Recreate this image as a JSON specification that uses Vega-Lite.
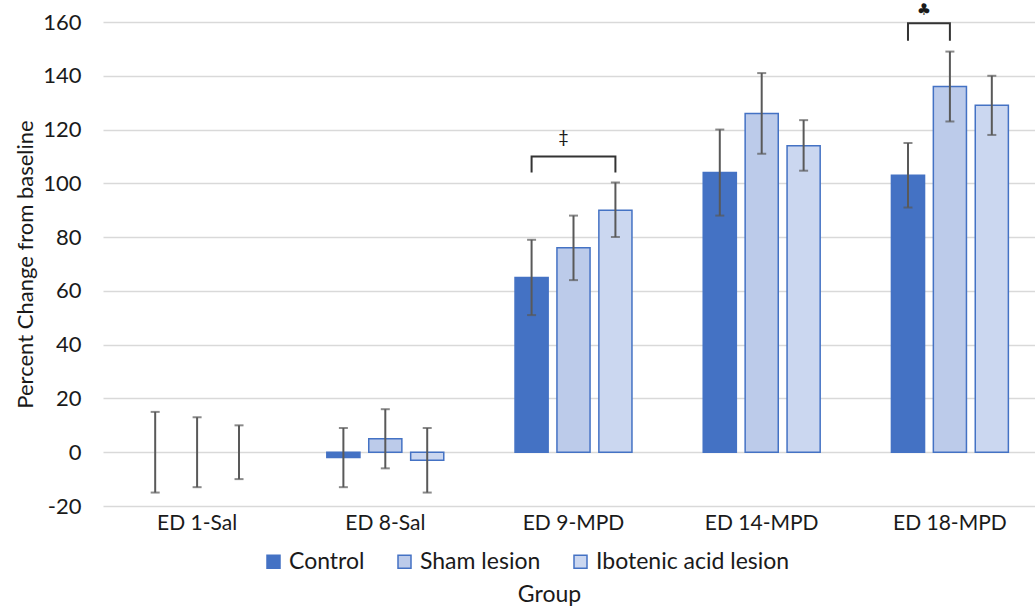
{
  "$schema": "https://vega.github.io/schema/vega-lite/v6.json",
  "width": 932,
  "height": 484,
  "autosize": {"type": "none"},
  "padding": {"left": 103, "top": 22, "right": 0, "bottom": 101},
  "background": "white",
  "config": {
    "font": "Lato",
    "view": {"stroke": null},
    "axis": {"labelColor": "#1a1a1a", "titleColor": "#1a1a1a", "titleFontWeight": "normal"}
  },
  "datasets": {
    "bars": [
      {"group": "ED 1-Sal", "series": "Control", "mean": 0, "lo": -15, "hi": 15},
      {"group": "ED 1-Sal", "series": "Sham lesion", "mean": 0, "lo": -13, "hi": 13},
      {"group": "ED 1-Sal", "series": "Ibotenic acid lesion", "mean": 0, "lo": -10, "hi": 10},
      {"group": "ED 8-Sal", "series": "Control", "mean": -2, "lo": -13, "hi": 9},
      {"group": "ED 8-Sal", "series": "Sham lesion", "mean": 5, "lo": -6, "hi": 16},
      {"group": "ED 8-Sal", "series": "Ibotenic acid lesion", "mean": -3, "lo": -15, "hi": 9},
      {"group": "ED 9-MPD", "series": "Control", "mean": 65, "lo": 51, "hi": 79},
      {"group": "ED 9-MPD", "series": "Sham lesion", "mean": 76, "lo": 64, "hi": 88},
      {"group": "ED 9-MPD", "series": "Ibotenic acid lesion", "mean": 90, "lo": 80, "hi": 100.3},
      {"group": "ED 14-MPD", "series": "Control", "mean": 104, "lo": 88, "hi": 120},
      {"group": "ED 14-MPD", "series": "Sham lesion", "mean": 126, "lo": 111, "hi": 141},
      {"group": "ED 14-MPD", "series": "Ibotenic acid lesion", "mean": 114, "lo": 104.7, "hi": 123.5},
      {"group": "ED 18-MPD", "series": "Control", "mean": 103, "lo": 91, "hi": 115},
      {"group": "ED 18-MPD", "series": "Sham lesion", "mean": 136, "lo": 123, "hi": 149},
      {"group": "ED 18-MPD", "series": "Ibotenic acid lesion", "mean": 129, "lo": 118, "hi": 140}
    ],
    "brackets": [
      {"group": "ED 9-MPD", "series": "Control", "y": 104, "k": 1},
      {"group": "ED 9-MPD", "series": "Control", "y": 110, "k": 2},
      {"group": "ED 9-MPD", "series": "Ibotenic acid lesion", "y": 110, "k": 3},
      {"group": "ED 9-MPD", "series": "Ibotenic acid lesion", "y": 104, "k": 4},
      {"group": "ED 18-MPD", "series": "Control", "y": 153, "k": 1},
      {"group": "ED 18-MPD", "series": "Control", "y": 159.5, "k": 2},
      {"group": "ED 18-MPD", "series": "Sham lesion", "y": 159.5, "k": 3},
      {"group": "ED 18-MPD", "series": "Sham lesion", "y": 153, "k": 4}
    ],
    "dagger": [
      {"group": "ED 9-MPD", "label": "‡", "y": 117}
    ],
    "club": [
      {"group": "ED 18-MPD", "label": "♣", "y": 164.5}
    ]
  },
  "layer": [
    {
      "data": {"name": "bars"},
      "mark": {"type": "bar", "strokeWidth": 1.5},
      "encoding": {
        "x": {
          "field": "group", "type": "nominal",
          "sort": ["ED 1-Sal", "ED 8-Sal", "ED 9-MPD", "ED 14-MPD", "ED 18-MPD"],
          "scale": {"domain": ["ED 1-Sal", "ED 8-Sal", "ED 9-MPD", "ED 14-MPD", "ED 18-MPD"], "range": [0, 941], "paddingInner": 0, "paddingOuter": 0},
          "title": "Group",
          "axis": {
            "labelAngle": 0, "labelFontSize": 21, "labelPadding": 6, "ticks": false, "tickSize": 0,
            "domain": false, "grid": false, "titleFontSize": 23, "titleX": 446, "titleY": 95,
            "titleBaseline": "alphabetic", "titleAnchor": null
          }
        },
        "xOffset": {
          "field": "series", "type": "nominal",
          "sort": ["Control", "Sham lesion", "Ibotenic acid lesion"],
          "scale": {"domain": ["Control", "Sham lesion", "Ibotenic acid lesion"], "paddingInner": 0.21, "paddingOuter": 0.85}
        },
        "y": {
          "field": "mean", "type": "quantitative",
          "scale": {"domain": [-20, 160], "nice": false, "zero": false},
          "title": "Percent Change from baseline",
          "axis": {
            "values": [-20, 0, 20, 40, 60, 80, 100, 120, 140, 160],
            "labelExpr": "datum.value < 0 ? '-' + (-datum.value) : '' + datum.value",
            "labelFontSize": 22, "labelPadding": 22, "ticks": false, "tickSize": 0, "domain": false,
            "grid": true, "gridColor": "#d9d9d9", "gridWidth": 1.3,
            "titleFontSize": 22, "titleX": -78, "titleY": 242, "titleAngle": 270,
            "titleBaseline": "middle", "titleAlign": "center"
          }
        },
        "fill": {
          "field": "series", "type": "nominal",
          "scale": {"domain": ["Control", "Sham lesion", "Ibotenic acid lesion"], "range": ["#4472C4", "#bccbea", "#cbd7f0"]},
          "legend": {
            "orient": "none", "legendX": 159, "legendY": 528, "direction": "horizontal",
            "title": null, "symbolType": "square", "symbolSize": 169,
            "labelFontSize": 23, "labelColor": "#1a1a1a", "labelLimit": 0, "symbolStrokeColor": "#4472C4",
            "symbolStrokeWidth": 1.5, "columnPadding": 28, "labelOffset": 4, "padding": 0
          }
        },
        "stroke": {"condition": {"test": "datum.mean === 0", "value": null}, "value": "#4472C4"}
      }
    },
    {
      "data": {"name": "bars"},
      "mark": {"type": "rule", "color": "#595959", "strokeWidth": 2},
      "encoding": {
        "x": {"field": "group", "type": "nominal"},
        "xOffset": {"field": "series", "type": "nominal"},
        "y": {"field": "lo", "type": "quantitative"},
        "y2": {"field": "hi"}
      }
    },
    {
      "data": {"name": "bars"},
      "mark": {"type": "tick", "color": "#595959", "size": 9, "thickness": 2},
      "encoding": {
        "x": {"field": "group", "type": "nominal"},
        "xOffset": {"field": "series", "type": "nominal"},
        "y": {"field": "lo", "type": "quantitative"}
      }
    },
    {
      "data": {"name": "bars"},
      "mark": {"type": "tick", "color": "#595959", "size": 9, "thickness": 2},
      "encoding": {
        "x": {"field": "group", "type": "nominal"},
        "xOffset": {"field": "series", "type": "nominal"},
        "y": {"field": "hi", "type": "quantitative"}
      }
    },
    {
      "data": {"name": "brackets"},
      "mark": {"type": "line", "color": "#333333", "strokeWidth": 2, "interpolate": "linear"},
      "encoding": {
        "x": {"field": "group", "type": "nominal"},
        "xOffset": {"field": "series", "type": "nominal"},
        "y": {"field": "y", "type": "quantitative"},
        "detail": {"field": "group"},
        "order": {"field": "k", "type": "quantitative"}
      }
    },
    {
      "data": {"name": "dagger"},
      "mark": {"type": "text", "color": "#1a1a1a", "fontSize": 18, "baseline": "middle", "align": "center", "dx": -10},
      "encoding": {
        "x": {"field": "group", "type": "nominal"},
        "y": {"field": "y", "type": "quantitative"},
        "text": {"field": "label"}
      }
    },
    {
      "data": {"name": "club"},
      "mark": {"type": "text", "color": "#1a1a1a", "fontSize": 16, "font": "DejaVu Sans", "baseline": "middle", "align": "center", "dx": -26},
      "encoding": {
        "x": {"field": "group", "type": "nominal"},
        "y": {"field": "y", "type": "quantitative"},
        "text": {"field": "label"}
      }
    }
  ]
}
